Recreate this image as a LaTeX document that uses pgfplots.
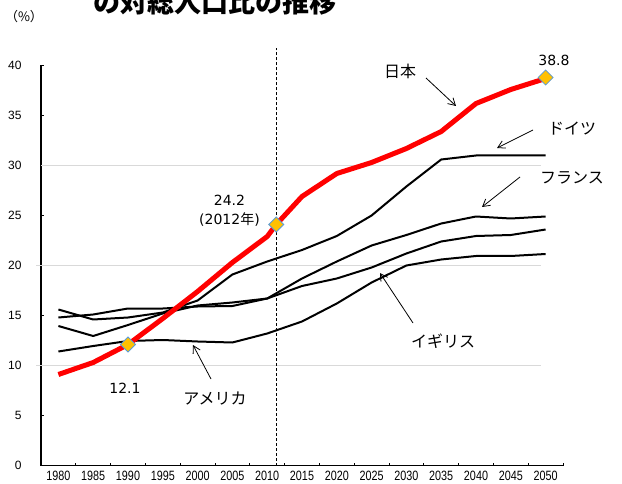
\documentclass[border=0pt]{standalone}
\usepackage{fontspec}
\setmainfont{Liberation Sans}
\newfontfamily\cjk{Noto Sans CJK JP}
\newfontfamily\dv{DejaVu Sans}
\newfontfamily\narrow[FakeStretch=0.8]{Liberation Sans}
\usepackage{pgfplots}
\pgfplotsset{compat=1.18}
\usetikzlibrary{arrows.meta}
\definecolor{jpred}{RGB}{255,0,0}
\definecolor{gold}{RGB}{255,192,0}
\definecolor{dblue}{RGB}{91,155,213}
\definecolor{gridc}{RGB}{217,217,217}
\begin{document}
\begin{tikzpicture}
\path[use as bounding box] (0pt,0pt) rectangle (622pt,483pt);
\clip (0pt,0pt) rectangle (622pt,483pt);
\begin{axis}[
  at={(41pt,17.5pt)}, anchor=south west,
  scale only axis, width=522pt, height=400pt,
  xmin=1977.5, xmax=2052.5, ymin=0, ymax=40,
  clip=false,
  axis lines*=left,
  axis line style={line width=1.2pt, black},
  tick align=inside,
  major tick length=3pt,
  every tick/.style={black, line width=1pt},
  xtick={1977.5,1982.5,...,2052.5},
  xticklabels={},
  extra x ticks={1980,1985,...,2050},
  extra x tick style={major tick length=0pt},
  extra x tick labels={1980,1985,1990,1995,2000,2005,2010,2015,2020,2025,2030,2035,2040,2045,2050},
  xticklabel style={font=\narrow\fontsize{13.5}{13.5}\selectfont, yshift=-2.5pt},
  ytick={0,5,...,40},
  yticklabel style={font=\fontsize{12}{12}\selectfont, xshift=-16pt},
  /pgf/number format/1000 sep={},
  /pgf/number format/assume math mode=true,
]
\draw[gridc, line width=1pt] (axis cs:1976.8,10) -- (axis cs:2049.3,10);
\draw[gridc, line width=1pt] (axis cs:1976.8,20) -- (axis cs:2049.3,20);
\draw[gridc, line width=1pt] (axis cs:1977.5,30) -- (axis cs:2049.3,30);
\draw[black, line width=0.8pt, dash pattern=on 3pt off 2pt] (axis cs:2011.3,0) -- (axis cs:2011.3,41.75);
% Germany
\addplot[black, line width=2pt, line join=round] coordinates {
(1980,15.6) (1985,14.6) (1990,14.8) (1995,15.3) (2000,16.5) (2005,19.1) (2010,20.4) (2015,21.55) (2020,22.95) (2025,25.0) (2030,27.9) (2035,30.6) (2040,31.0) (2045,31.0) (2050,31.0)};
% France
\addplot[black, line width=2pt, line join=round] coordinates {
(1980,13.95) (1985,12.95) (1990,14.05) (1995,15.2) (2000,16.0) (2005,16.3) (2010,16.7) (2015,18.7) (2020,20.4) (2025,22.0) (2030,23.05) (2035,24.2) (2040,24.9) (2045,24.7) (2050,24.9)};
% UK
\addplot[black, line width=2pt, line join=round] coordinates {
(1980,14.8) (1985,15.1) (1990,15.7) (1995,15.7) (2000,15.9) (2005,15.95) (2010,16.7) (2015,17.95) (2020,18.7) (2025,19.8) (2030,21.2) (2035,22.4) (2040,22.95) (2045,23.05) (2050,23.6)};
% USA
\addplot[black, line width=2pt, line join=round] coordinates {
(1980,11.4) (1985,11.95) (1990,12.45) (1995,12.55) (2000,12.4) (2005,12.3) (2010,13.2) (2015,14.4) (2020,16.2) (2025,18.3) (2030,20.0) (2035,20.6) (2040,20.95) (2045,20.95) (2050,21.15)};
% Japan
\addplot[jpred, line width=5pt, line join=round] coordinates {
(1980,9.1) (1985,10.3) (1990,12.1) (1995,14.7) (2000,17.4) (2005,20.3) (2010,22.9) (2011.3,24.1) (2015,26.9) (2020,29.2) (2025,30.3) (2030,31.7) (2035,33.4) (2040,36.2) (2045,37.6) (2050,38.7)};
\addplot[only marks, mark=square*, mark size=5.3pt, mark options={rotate=45, fill=gold, draw=dblue, line width=0.8pt}] coordinates {(1990,12.1) (2011.3,24.1) (2050,38.8)};
\end{axis}
% texts
\node[font=\cjk\fontsize{13}{13}\selectfont] at (24pt,466pt) {（\%）};
\node[anchor=base west, font=\cjk\bfseries\fontsize{27}{27}\selectfont] at (90pt,470pt) {の対総人口比の推移};
\node[font=\dv\fontsize{14}{14}\selectfont] at (229.5pt,283pt) {24.2};
\node[font=\dv\fontsize{14}{14}\selectfont] at (229.5pt,263pt) {(2012{\cjk 年})};
\node[font=\dv\fontsize{14}{14}\selectfont] at (125pt,95pt) {12.1};
\node[font=\dv\fontsize{14}{14}\selectfont] at (554pt,423pt) {38.8};
\node[font=\cjk\fontsize{16}{16}\selectfont] at (400pt,412pt) {日本};
\node[font=\cjk\fontsize{16}{16}\selectfont] at (572pt,354pt) {ドイツ};
\node[font=\cjk\fontsize{16}{16}\selectfont] at (572pt,305pt) {フランス};
\node[font=\cjk\fontsize{16}{16}\selectfont] at (443pt,142pt) {イギリス};
\node[font=\cjk\fontsize{16}{16}\selectfont] at (215pt,84pt) {アメリカ};
\begin{scope}[line width=0.8pt, -{Straight Barb[length=7pt,width=8pt]}]
\draw (426pt,405pt) -- (456pt,377pt);
\draw (533pt,353pt) -- (497pt,335pt);
\draw (520pt,306pt) -- (482pt,276pt);
\draw (413pt,160pt) -- (380pt,210pt);
\draw (211pt,104pt) -- (193pt,138pt);
\end{scope}
\end{tikzpicture}
\end{document}
